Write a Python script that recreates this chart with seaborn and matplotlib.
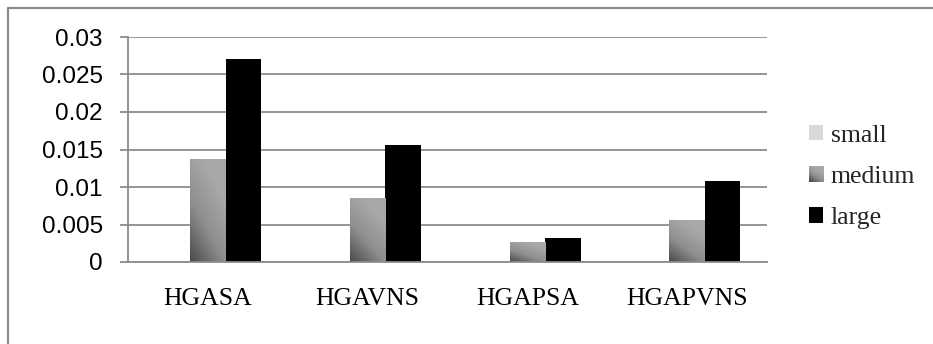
import numpy as np
import pandas as pd
import matplotlib
matplotlib.use("Agg")
import matplotlib.pyplot as plt
from matplotlib.colors import LinearSegmentedColormap
from matplotlib.lines import Line2D
from matplotlib.patches import Rectangle
from matplotlib.legend_handler import HandlerBase
import seaborn as sns

# Data
algorithms = ["HGASA", "HGAVNS", "HGAPSA", "HGAPVNS"]
sizes = ["small", "medium", "large"]
small_vals = [0.0, 0.0, 0.0, 0.0]
medium_vals = [0.0137, 0.0085, 0.0027, 0.0056]
large_vals = [0.0271, 0.0156, 0.0032, 0.0108]
y_ticks = [0, 0.005, 0.01, 0.015, 0.02, 0.025, 0.03]
y_tick_labels = ["0", "0.005", "0.01", "0.015", "0.02", "0.025", "0.03"]

df = pd.DataFrame({
    "algorithm": np.repeat(algorithms, 3),
    "size": sizes * len(algorithms),
    "value": [v for trio in zip(small_vals, medium_vals, large_vals) for v in trio],
})

sns.set_theme(style="white")
plt.rcParams["font.family"] = ["Liberation Serif", "DejaVu Serif"]

GRID = "#8c8c8c"
palette = {"small": "#d9d9d9", "medium": "#8a8a8a", "large": "#000000"}
grad_cmap = LinearSegmentedColormap.from_list("grey_grad", ["#4a4a4a", "#8e8e8e", "#a8a8a8"])

fig = plt.figure(figsize=(9.33, 3.44), dpi=100)
ax = fig.add_axes([128 / 933, 1 - 262 / 344, (767 - 128) / 933, (262 - 37) / 344])

sns.barplot(data=df, x="algorithm", y="value", hue="size", hue_order=sizes,
            order=algorithms, palette=palette, width=0.667, saturation=1,
            legend=False, ax=ax, edgecolor="none", linewidth=0)

ax.set_ylim(0, 0.03)
ax.set_xlim(-0.5, len(algorithms) - 0.5)

# Diagonal gradient fill for the "medium" bars
uu, vv = np.meshgrid(np.linspace(0, 1, 40), np.linspace(0, 1, 80))
grad = np.clip((uu * 0.6 + vv) / 1.2, 0, 1)
for bar in ax.containers[1]:
    x0, w = bar.get_x(), bar.get_width()
    h = bar.get_height()
    if h <= 0:
        continue
    bar.set_facecolor("none")
    im = ax.imshow(grad, cmap=grad_cmap, origin="lower", aspect="auto",
                   extent=(x0, x0 + w, 0, h), interpolation="bilinear", zorder=bar.get_zorder())
    im.set_clip_path(bar)
ax.set_xlim(-0.5, len(algorithms) - 0.5)
ax.set_ylim(0, 0.03)

# Gridlines and axes styling
ax.set_yticks(y_ticks)
ax.set_yticklabels(y_tick_labels, fontfamily=["Liberation Sans", "DejaVu Sans"], fontsize=17.5)
ax.yaxis.grid(True, color=GRID, linewidth=1.3)
ax.set_axisbelow(True)
for side in ["top", "right"]:
    ax.spines[side].set_visible(False)
for side in ["left", "bottom"]:
    ax.spines[side].set_color(GRID)
    ax.spines[side].set_linewidth(1.3)
ax.tick_params(axis="y", left=True, length=6, width=1.3, color=GRID, pad=12, labelcolor="black")
ax.tick_params(axis="x", bottom=False, length=0, pad=19, labelsize=18.5, labelcolor="black")
ax.set_xlabel("")
ax.set_ylabel("")


class GradientHandler(HandlerBase):
    def create_artists(self, legend, orig_handle, xdescent, ydescent, width, height, fontsize, trans):
        n = 8
        arts = []
        for i in range(n):
            for j in range(n):
                t = np.clip((i / (n - 1) * 0.6 + j / (n - 1)) / 1.2, 0, 1)
                r = Rectangle((-xdescent + width * i / n, -ydescent + height * j / n),
                              width / n + 0.3, height / n + 0.3,
                              facecolor=grad_cmap(t), edgecolor="none", transform=trans)
                arts.append(r)
        return arts


class GradientKey:
    pass


handles = [Rectangle((0, 0), 1, 1, facecolor=palette["small"], edgecolor="none"),
           GradientKey(),
           Rectangle((0, 0), 1, 1, facecolor=palette["large"], edgecolor="none")]
fig.legend(handles, sizes, handler_map={GradientKey: GradientHandler()},
           loc="center left", bbox_to_anchor=(809 / 933, 1 - 177 / 344),
           frameon=False, fontsize=18.5, handlelength=0.55, handleheight=0.55,
           handletextpad=0.3, labelspacing=0.75, borderaxespad=0, borderpad=0)

# Outer chart frame
fig.add_artist(Line2D([8 / 933, 1], [1 - 8 / 344, 1 - 8 / 344], transform=fig.transFigure,
                      color=GRID, linewidth=1.6))
fig.add_artist(Line2D([8 / 933, 8 / 933], [0, 1 - 8 / 344], transform=fig.transFigure,
                      color=GRID, linewidth=1.6))

fig.savefig("out.png", dpi=100, facecolor="white")
